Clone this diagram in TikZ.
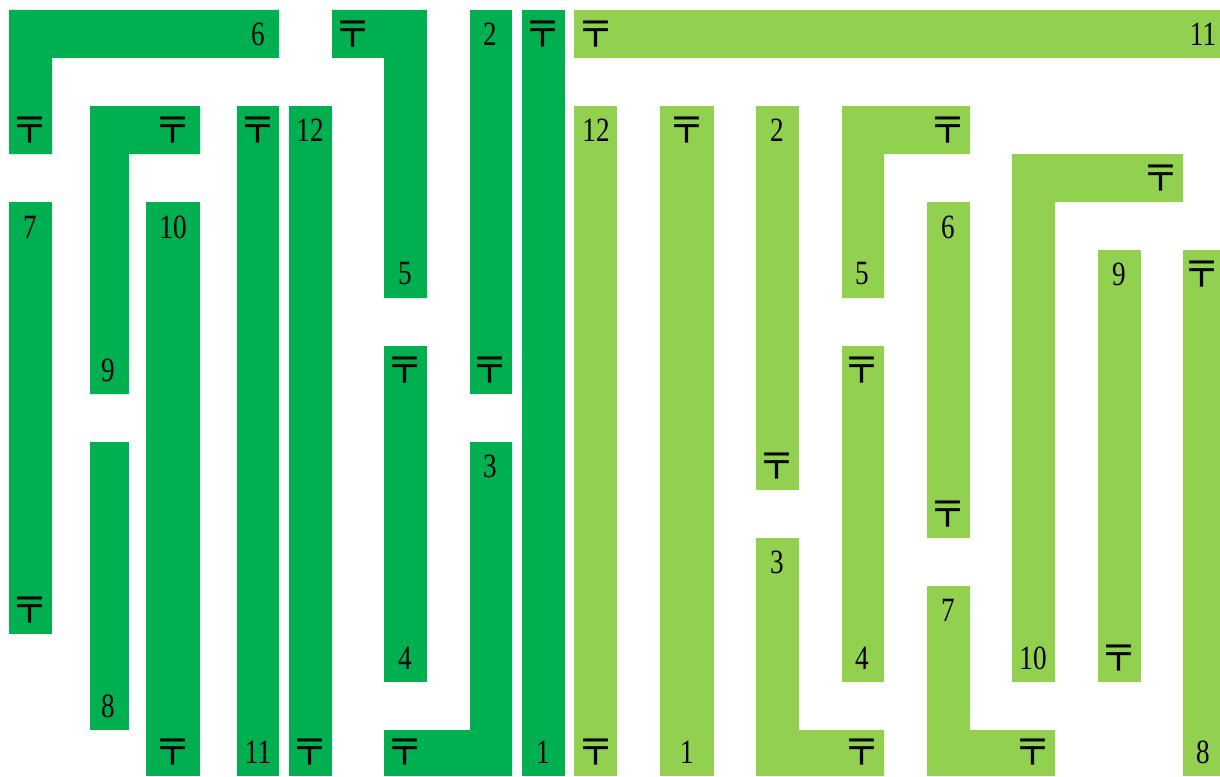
\documentclass[tikz,border=0pt]{standalone}
\usepackage{fontspec}
\setmainfont{Liberation Serif}
\newfontfamily\numfont[FakeStretch=0.8]{Liberation Serif}
\newfontfamily\jpfont{Noto Sans CJK JP}
\newcommand\yubin{\makebox[28pt][c]{〒}}
\definecolor{dk}{HTML}{00AF50}
\definecolor{lt}{HTML}{92D050}
\tikzset{
  dkbar/.style={fill=dk},
  ltbar/.style={fill=lt},
  num/.style={font=\numfont\fontsize{34}{34}\selectfont, inner sep=0pt, text=black},
  post/.style={font=\jpfont\fontsize{37}{37}\selectfont, inner sep=0pt, text=black},
}
\begin{document}
\begin{tikzpicture}[x=1pt,y=-1pt]
\useasboundingbox (0,0) rectangle (1220,776);
% ---------- dark green pieces ----------
\fill[dkbar] (9,10) -- (279,10) -- (279,58) -- (52,58) -- (52,154) -- (9,154) -- cycle;
\fill[dkbar] (9,202) rectangle (52,634);
\fill[dkbar] (90,106) -- (200,106) -- (200,154) -- (129,154) -- (129,394) -- (90,394) -- cycle;
\fill[dkbar] (90,442) rectangle (129,730);
\fill[dkbar] (146,202) rectangle (200,776);
\fill[dkbar] (237,106) rectangle (279,776);
\fill[dkbar] (289,106) rectangle (332,776);
\fill[dkbar] (332,10) -- (427,10) -- (427,298) -- (384,298) -- (384,58) -- (332,58) -- cycle;
\fill[dkbar] (384,346) rectangle (427,682);
\fill[dkbar] (470,10) rectangle (512,394);
\fill[dkbar] (470,442) -- (512,442) -- (512,776) -- (384,776) -- (384,730) -- (470,730) -- cycle;
\fill[dkbar] (522,10) rectangle (565,776);
% ---------- light green pieces ----------
\fill[ltbar] (574,10) rectangle (1220,58);
\fill[ltbar] (574,106) rectangle (617,776);
\fill[ltbar] (660,106) rectangle (714,776);
\fill[ltbar] (756,106) rectangle (799,490);
\fill[ltbar] (756,538) -- (799,538) -- (799,730) -- (884,730) -- (884,776) -- (756,776) -- cycle;
\fill[ltbar] (842,106) -- (970,106) -- (970,154) -- (884,154) -- (884,298) -- (842,298) -- cycle;
\fill[ltbar] (842,346) rectangle (884,682);
\fill[ltbar] (927,202) rectangle (970,538);
\fill[ltbar] (927,586) -- (970,586) -- (970,730) -- (1055,730) -- (1055,776) -- (927,776) -- cycle;
\fill[ltbar] (1012,154) -- (1183,154) -- (1183,202) -- (1055,202) -- (1055,682) -- (1012,682) -- cycle;
\fill[ltbar] (1098,250) rectangle (1141,682);
\fill[ltbar] (1183,250) rectangle (1220,776);
% ---------- dark labels ----------
\node[num]  (d6a) at (258,34)  {6};
\node[post] (d6b) at (30,130)  {\yubin};
\node[num]  (d7a) at (30,227)  {7};
\node[post] (d7b) at (30,610)  {\yubin};
\node[post] (d9a) at (173,130) {\yubin};
\node[num]  (d9b) at (108,370) {9};
\node[num]  (d8)  at (108,706) {8};
\node[num]  (d10a) at (173,227) {10};
\node[post] (d10b) at (173,752) {\yubin};
\node[post] (d11a) at (258,130) {\yubin};
\node[num]  (d11b) at (258,752) {11};
\node[num]  (d12a) at (310,130) {12};
\node[post] (d12b) at (310,752) {\yubin};
\node[post] (d5a) at (353,34)  {\yubin};
\node[num]  (d5b) at (405,274) {5};
\node[post] (d4a) at (405,370) {\yubin};
\node[num]  (d4b) at (405,658) {4};
\node[num]  (d2a) at (490,34)  {2};
\node[post] (d2b) at (490,370) {\yubin};
\node[num]  (d3a) at (490,466) {3};
\node[post] (d3b) at (405,752) {\yubin};
\node[post] (d1a) at (543,34)  {\yubin};
\node[num]  (d1b) at (543,752) {1};
% ---------- light labels ----------
\node[post] (l11a) at (596,34)  {\yubin};
\node[num]  (l11b) at (1203,34) {11};
\node[num]  (l12a) at (596,130) {12};
\node[post] (l12b) at (596,752) {\yubin};
\node[post] (l1a) at (687,130) {\yubin};
\node[num]  (l1b) at (687,752) {1};
\node[num]  (l2a) at (777,130) {2};
\node[post] (l2b) at (777,466) {\yubin};
\node[num]  (l3a) at (777,562) {3};
\node[post] (l3b) at (862,752) {\yubin};
\node[post] (l5a) at (948,130) {\yubin};
\node[num]  (l5b) at (862,274) {5};
\node[post] (l4a) at (862,370) {\yubin};
\node[num]  (l4b) at (862,658) {4};
\node[num]  (l6a) at (948,227) {6};
\node[post] (l6b) at (948,514) {\yubin};
\node[num]  (l7a) at (948,610) {7};
\node[post] (l7b) at (1033,752) {\yubin};
\node[post] (l10a) at (1161,178) {\yubin};
\node[num]  (l10b) at (1033,658) {10};
\node[num]  (l9a) at (1119,274) {9};
\node[post] (l9b) at (1119,658) {\yubin};
\node[post] (l8a) at (1202,274) {\yubin};
\node[num]  (l8b) at (1203,752) {8};
\end{tikzpicture}
\end{document}
